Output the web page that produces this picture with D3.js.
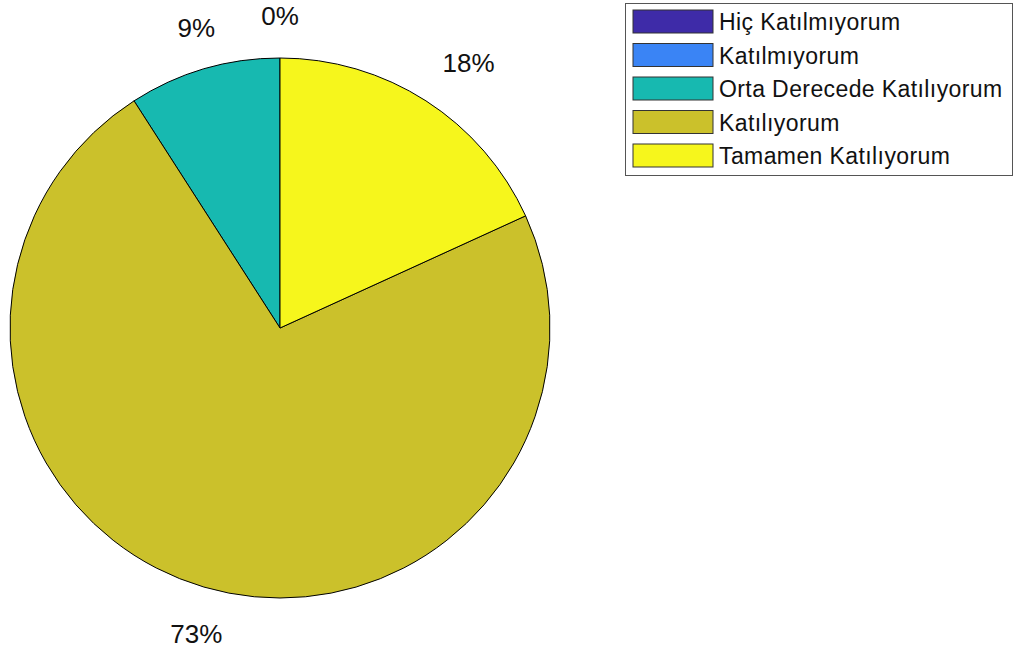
<html>
<head>
<script src="https://d3js.org/d3.v7.min.js"></script>
<style>
    body {
        margin: 0;
        background-color: #fff;
        font-family: 'Liberation Sans', Arial, sans-serif;
    }
</style>
</head>
<body>
    <svg width="1013" height="653"></svg>
    <script type="text/javascript">
    var categories = ["Hiç Katılmıyorum", "Katılmıyorum", "Orta Derecede Katılıyorum", "Katılıyorum", "Tamamen Katılıyorum"];
    var counts = [0, 0, 1, 8, 2];
    var colors = ["#3e2ba8", "#3a84f5", "#17b9b0", "#cbc12b", "#f6f61c"];

    var svg = d3.select("svg"),
        cx = 280, cy = 328, radius = 270;

    var total = d3.sum(counts);
    var data = categories.map(function(c, i) { return {name: c, value: counts[i], color: colors[i]}; });

    // counter-clockwise from the top, like matlab's pie
    var pie = d3.pie()
        .sort(null)
        .value(function(d) { return d.value; })
        .startAngle(0)
        .endAngle(-2 * Math.PI);

    var arc = d3.arc().innerRadius(0).outerRadius(radius);

    var g = svg.append("g").attr("transform", "translate(" + cx + "," + cy + ")");
    var arcs = pie(data);

    g.selectAll("path")
        .data(arcs.filter(function(d) { return d.value > 0; }))
        .enter().append("path")
        .attr("d", arc)
        .attr("fill", function(d) { return d.data.color; })
        .attr("stroke", "#000")
        .attr("stroke-width", 1);

    // labels, zero slices share a spot so only keep the first of those
    var seenZero = false;
    var labelArcs = arcs.filter(function(d) {
        if (d.value > 0) return true;
        if (seenZero) return false;
        seenZero = true;
        return true;
    });

    g.selectAll("text.pct")
        .data(labelArcs)
        .enter().append("text")
        .attr("class", "pct")
        .each(function(d) {
            var a = (d.startAngle + d.endAngle) / 2,
                r = radius * 1.1,
                x = r * Math.sin(a),
                y = -r * Math.cos(a),
                s = Math.sin(a),
                anchor = s > 0.3 ? "start" : (s < -0.3 ? "end" : "middle");
            d3.select(this)
                .attr("x", s > 0.3 ? x + 2 : x)
                .attr("y", y < 0 ? y - 6 : y + 30)
                .attr("text-anchor", anchor)
                .style("font-size", "26px")
                .attr("fill", "#111")
                .text(Math.round(d.value / total * 100) + "%");
        });

    // legend
    var legend = svg.append("g").attr("transform", "translate(625,3)");
    legend.append("rect")
        .attr("x", 0.5).attr("y", 0.5)
        .attr("width", 387).attr("height", 172)
        .attr("fill", "#fff")
        .attr("stroke", "#555")
        .attr("stroke-width", 1);

    var item = legend.selectAll("g.item")
        .data(data)
        .enter().append("g")
        .attr("class", "item")
        .attr("transform", function(d, i) { return "translate(8," + (7 + i * 33.5) + ")"; });

    item.append("rect")
        .attr("width", 80).attr("height", 23)
        .attr("fill", function(d) { return d.color; })
        .attr("stroke", "#333")
        .attr("stroke-width", 1);

    item.append("text")
        .attr("x", 86)
        .attr("y", 20)
        .style("font-size", "23px")
        .style("letter-spacing", "0.4px")
        .attr("fill", "#111")
        .text(function(d) { return d.name; });
    </script>
</body>
</html>
